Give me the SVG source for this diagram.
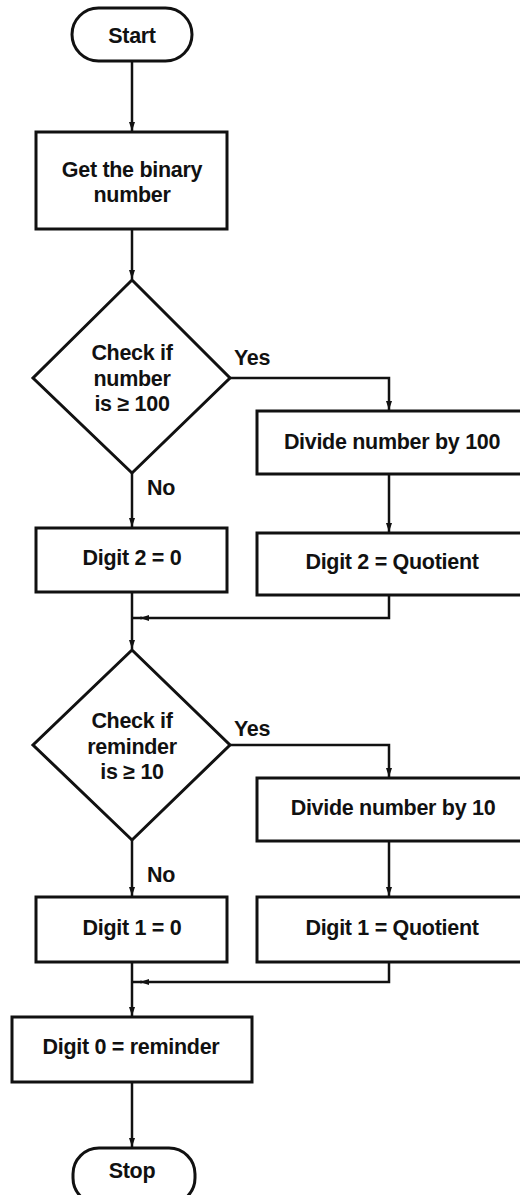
<svg xmlns="http://www.w3.org/2000/svg" width="520" height="1195" viewBox="0 0 520 1195">
<defs>
<style>
.s{fill:#fff;stroke:#111;stroke-width:3}
.c{fill:none;stroke:#111;stroke-width:2.5}
.t{font-family:"Liberation Sans",Arial,Helvetica,sans-serif;font-weight:bold;font-size:21.5px;fill:#111;text-anchor:middle;letter-spacing:-0.3px}
.l{font-family:"Liberation Sans",Arial,Helvetica,sans-serif;font-weight:bold;font-size:21.5px;fill:#111;letter-spacing:-0.3px}
</style>
<marker id="ah" markerWidth="9" markerHeight="12" refX="12" refY="4.5" orient="auto" markerUnits="userSpaceOnUse" viewBox="0 0 12 9">
<path d="M0,0.5 L12,4.5 L0,8.5 Z" fill="#111"/>
</marker>
</defs>
<rect width="520" height="1195" fill="#fff"/>
<g id="connectors">
<path class="c" d="M132,61 V131" marker-end="url(#ah)"/>
<path class="c" d="M132,229 V279" marker-end="url(#ah)"/>
<path class="c" d="M230,378 H389 V410" marker-end="url(#ah)"/>
<path class="c" d="M132,473 V527" marker-end="url(#ah)"/>
<path class="c" d="M389,474 V532" marker-end="url(#ah)"/>
<path class="c" d="M389,595 V618 H140" marker-end="url(#ah)"/>
<path class="c" d="M132,592 V649" marker-end="url(#ah)"/>
<path class="c" d="M142,618 H132"/>
<path class="c" d="M230,745 H389 V777" marker-end="url(#ah)"/>
<path class="c" d="M132,840 V896" marker-end="url(#ah)"/>
<path class="c" d="M389,841 V896" marker-end="url(#ah)"/>
<path class="c" d="M389,962 V982 H140" marker-end="url(#ah)"/>
<path class="c" d="M142,982 H132"/>
<path class="c" d="M132,962 V1016" marker-end="url(#ah)"/>
<path class="c" d="M132,1082 V1147" marker-end="url(#ah)"/>
<text class="l" x="234" y="365">Yes</text>
<text class="l" x="147" y="495">No</text>
<text class="l" x="234" y="736">Yes</text>
<text class="l" x="147" y="882">No</text>
</g>
<g id="start">
<rect class="s" x="72" y="8" width="120" height="53" rx="26.5"/>
<text class="t" x="132" y="43">Start</text>
</g>
<g id="get-binary">
<rect class="s" x="36" y="132" width="191" height="97"/>
<text class="t" x="132" y="177">Get the binary</text>
<text class="t" x="132" y="202">number</text>
</g>
<g id="check-100">
<polygon class="s" points="132,280 230,378 132,473 33,378"/>
<text class="t" x="132" y="360">Check if</text>
<text class="t" x="132" y="386">number</text>
<text class="t" x="132" y="411">is ≥ 100</text>
</g>
<g id="divide-100">
<rect class="s" x="257" y="411" width="275" height="63"/>
<text class="t" x="392" y="449">Divide number by 100</text>
</g>
<g id="digit2-zero">
<rect class="s" x="36" y="528" width="191" height="64"/>
<text class="t" x="132" y="565">Digit 2 = 0</text>
</g>
<g id="digit2-quotient">
<rect class="s" x="257" y="533" width="275" height="62"/>
<text class="t" x="392" y="569">Digit 2 = Quotient</text>
</g>
<g id="check-10">
<polygon class="s" points="132,650 230,745 132,840 33,745"/>
<text class="t" x="132" y="728">Check if</text>
<text class="t" x="132" y="754">reminder</text>
<text class="t" x="132" y="779">is ≥ 10</text>
</g>
<g id="divide-10">
<rect class="s" x="257" y="778" width="275" height="63"/>
<text class="t" x="393" y="815">Divide number by 10</text>
</g>
<g id="digit1-zero">
<rect class="s" x="36" y="897" width="191" height="65"/>
<text class="t" x="132" y="935">Digit 1 = 0</text>
</g>
<g id="digit1-quotient">
<rect class="s" x="257" y="897" width="275" height="65"/>
<text class="t" x="392" y="935">Digit 1 = Quotient</text>
</g>
<g id="digit0">
<rect class="s" x="12" y="1017" width="240" height="65"/>
<text class="t" x="131" y="1054">Digit 0 = reminder</text>
</g>
<g id="stop">
<rect class="s" x="73" y="1148" width="122" height="56" rx="26"/>
<text class="t" x="132" y="1178">Stop</text>
</g>
</svg>
